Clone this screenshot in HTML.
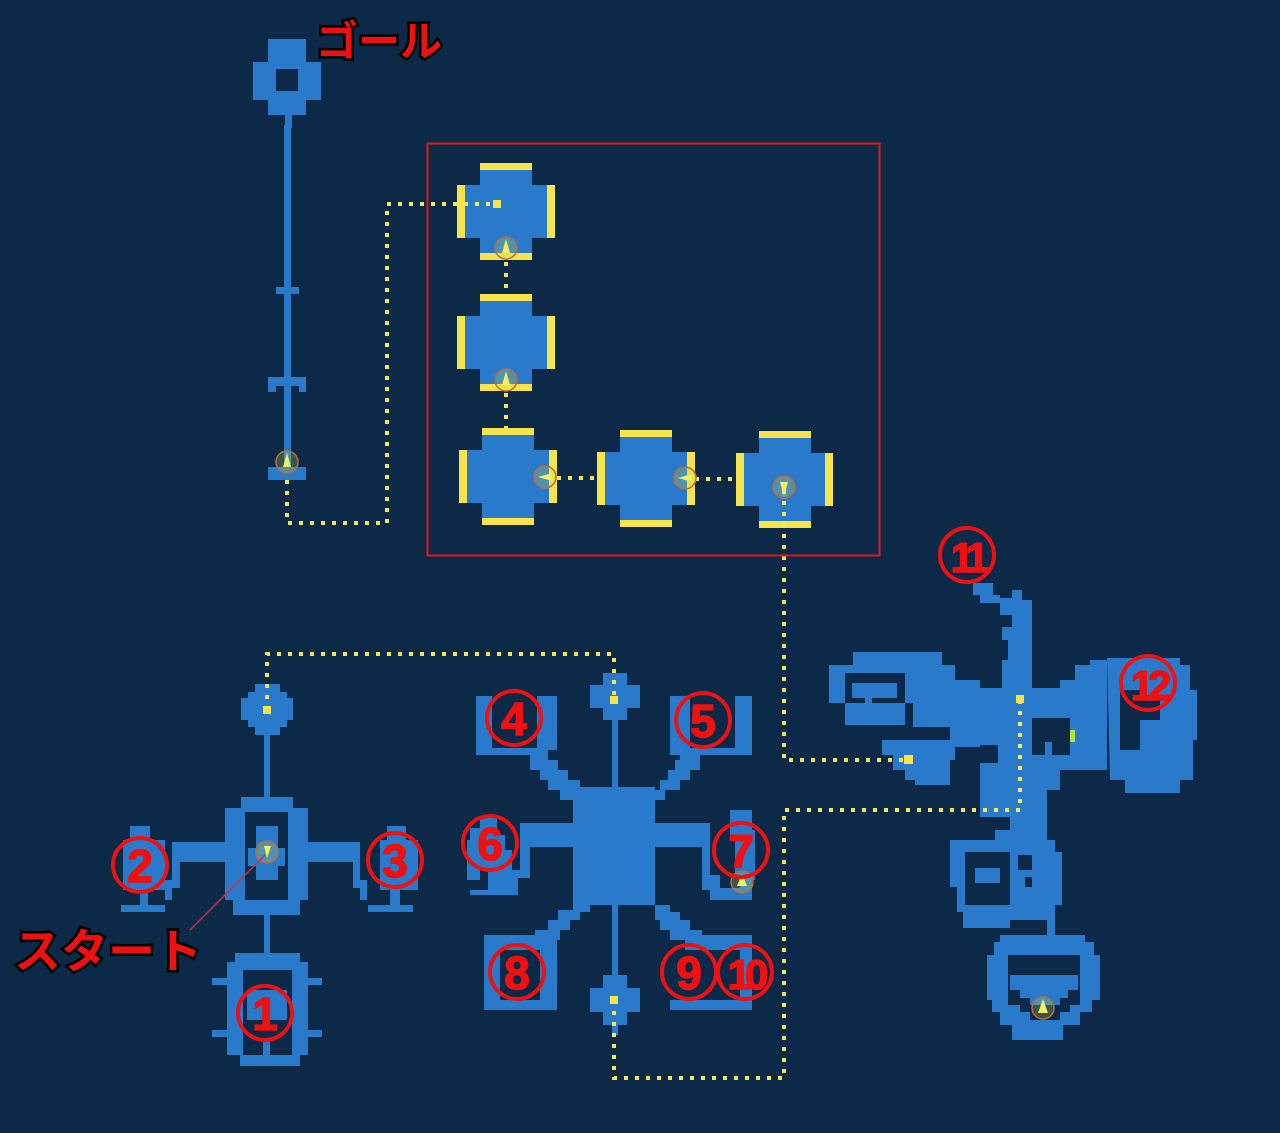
<!DOCTYPE html>
<html><head><meta charset="utf-8">
<style>
html,body{margin:0;padding:0;background:#0c2a47;}
svg{display:block}
.lbl{font-family:"Liberation Sans","Noto Sans CJK JP",sans-serif;font-weight:bold;fill:#ee1111;stroke:#000;stroke-width:5;paint-order:stroke;}
.num{font-family:"Liberation Sans",sans-serif;font-weight:bold;fill:#ee1111;stroke:#ee1111;stroke-width:1.5;font-size:46px;text-anchor:middle;}
</style></head><body>
<svg width="1280" height="1133" viewBox="0 0 1280 1133" xmlns="http://www.w3.org/2000/svg">
<rect width="1280" height="1133" fill="#0c2a47"/>
<g fill="#2a7acc" fill-rule="evenodd">
<path d="M268 39H306V62H321V100H306V115H292V128H285V115H268V100H253V62H268Z M276 69V91H298V69Z"/>
<rect x="284" y="125" width="7" height="345"/>
<rect x="276" y="287" width="23" height="7"/>
<path d="M268 377H306V392H299V386H276V392H268Z"/>
<rect x="268" y="467" width="38" height="13"/>

<path d="M255 684H280V692H287V698H293V720H287V727H280V735H255V727H248V720H241V698H248V692H255Z"/>
<rect x="264" y="735" width="6" height="62"/>
<path d="M241 797H293V808H308V900H300V915H233V900H225V808H241Z M245 812V900H288V812Z"/>
<path d="M256 826H278V848H285V866H278V880H256V866H248V848H256Z"/>
<path d="M172 842H225V862H180V888H172V900H165V880H172Z"/>
<path d="M308 842H360V880H367V900H360V888H353V862H308Z"/>
<path d="M130 826H150V840H165V890H148V905H165V912H121V905H140V890H123V840H130Z"/>
<path d="M387 826H406V840H418V890H400V905H413V912H368V905H390V890H380V840H387Z"/>
<rect x="264" y="915" width="6" height="40"/>
<path d="M235 953H300V962H308V978H322V985H308V1030H322V1037H308V1055H300V1066H240V1055H227V1037H212V1030H227V985H212V978H227V962H235Z M243 970V1055H263V1040H270V1055H292V970Z"/>
<rect x="247" y="990" width="40" height="30"/>

<rect x="573" y="787" width="82" height="118"/>
<path d="M603 673H627V685H640V708H627V720H618V787H612V720H603V708H590V685H603Z"/>
<path d="M612 905H618V975H627V988H640V1012H627V1025H618V1035H612V1025H603V1012H590V988H603V975H612Z"/>
<path d="M476 696H492V748H537V696H557V750H548V760H558V770H568V780H580V790H573V800H560V790H548V780H540V770H530V755H476Z"/>
<path d="M670 696H690V748H735V696H752V755H700V770H690V780H680V790H665V800H655V790H660V780H668V770H675V760H680V755H670Z"/>
<path d="M520 823H573V847H530V878H518V895H470V890H488V870H480V880H467V840H470V828H480V818H497V835H505V850H512V870H520Z"/>
<path d="M655 823H710V875H720V888H740V875H735V840H730V810H752V830H755V880H752V900H710V890H702V847H655Z"/>
<path d="M573 905H590V912H580V920H570V930H560V940H557V1010H484V935H535V930H548V920H558V910H573Z M500 950V1000H540V950Z"/>
<path d="M655 905H670V912H680V920H690V930H702V935H752V1010H670V1000H740V950H685V940H670V930H660V920H655Z"/>

<path d="M973 583H993V595H1000V598H1012V590H1022V600H1032V690H1002V660H1008V640H1002V627H1012V615H1000V603H980V595H973Z"/>
<path d="M980 688H1060V680H1075V665H1090V660H1107V770H1060V790H1020V785H1000V780H985V765H998V745H980Z M1032 718V755H1045V742H1052V755H1070V718Z"/>
<path d="M853 652H942V665H955V680H980V747H955V760H950V785H915V780H905V770H893V755H882V740H950V727H913V703H829V665H853Z M845 673V725H905V673Z"/>
<rect x="852" y="683" width="45" height="15"/>
<rect x="865" y="698" width="7" height="20"/>
<path d="M1107 658H1180V665H1190V690H1197V740H1193V780H1180V793H1125V780H1110Z M1120 690V750H1140V720H1160V700H1140V690Z"/>
<path d="M980 763H1047V840H1010V817H980Z"/>
<path d="M995 830H1040V840H1055V852H1062V905H1047V920H1010V928H963V912H957V887H950V840H995Z M965 852V905H1010V852Z M1018 855V870H1032V855Z M1025 877V887H1032V877Z"/>
<rect x="975" y="868" width="25" height="15"/>
<rect x="1047" y="905" width="8" height="30"/>
<path d="M1000 935H1085V942H1094V955H1100V1000H1092V1012H1080V1025H1063V1040H1012V1025H1000V1012H992V1000H987V955H994V942H1000Z M1008 955V1005H1020V1012H1030V1020H1060V1012H1070V1005H1080V955Z"/>
<path d="M1010 975H1078V990H1068V998H1060V1005H1030V998H1020V990H1010Z"/>
</g>

<g>
<g fill="#2a7acc">
<path d="M480 163H532V185H555V238H532V260H480V238H457V185H480Z"/>
<path d="M480 294H532V316H555V369H532V391H480V369H457V316H480Z"/>
<path d="M482 428H534V450H557V503H534V525H482V503H459V450H482Z"/>
<path d="M620 430H672V452H695V505H672V527H620V505H597V452H620Z"/>
<path d="M759 431H811V453H833V506H811V528H759V506H736V453H759Z"/>
</g>
<g fill="#f7e34a">
<rect x="480" y="163" width="52" height="7"/><rect x="480" y="253" width="52" height="7"/><rect x="457" y="185" width="8" height="53"/><rect x="547" y="185" width="8" height="53"/>
<rect x="480" y="294" width="52" height="7"/><rect x="480" y="384" width="52" height="7"/><rect x="457" y="316" width="8" height="53"/><rect x="547" y="316" width="8" height="53"/>
<rect x="482" y="428" width="52" height="7"/><rect x="482" y="518" width="52" height="7"/><rect x="459" y="450" width="8" height="53"/><rect x="549" y="450" width="8" height="53"/>
<rect x="620" y="430" width="52" height="7"/><rect x="620" y="520" width="52" height="7"/><rect x="597" y="452" width="8" height="53"/><rect x="687" y="452" width="8" height="53"/>
<rect x="759" y="431" width="52" height="7"/><rect x="759" y="521" width="52" height="7"/><rect x="736" y="453" width="8" height="53"/><rect x="825" y="453" width="8" height="53"/>
</g>
</g>

<g fill="none" stroke="#f2e85a" stroke-width="4" stroke-dasharray="4 7">
<path d="M287 480V523H387V204H497"/>
<path d="M506 262V294M506 393V428"/>
<path d="M557 478H597M695 479H736"/>
<path d="M784 490V760H908"/>
<path d="M267 710V654H614V700"/>
<path d="M614 1000V1078H784V810H1020V698"/>
</g>
<g fill="#f7e34a">
<rect x="493" y="200" width="8" height="8"/><rect x="263" y="706" width="8" height="8"/><rect x="610" y="696" width="8" height="8"/><rect x="610" y="996" width="8" height="8"/><rect x="904" y="755" width="9" height="9"/><rect x="1016" y="695" width="8" height="8"/>
<rect x="1070" y="730" width="5" height="12" fill="#b8e040"/>
</g>

<g>
<g stroke="#c06a3a" stroke-width="1.5" fill="rgba(200,220,80,0.25)">
<circle cx="287" cy="462" r="11"/><circle cx="506" cy="248" r="11"/><circle cx="506" cy="380" r="11"/>
<circle cx="545" cy="477" r="11"/><circle cx="685" cy="478" r="11"/><circle cx="784" cy="487" r="11"/>
<circle cx="267" cy="852" r="11"/><circle cx="742" cy="882" r="11"/><circle cx="1043" cy="1008" r="11"/>
</g>
<g fill="#f5f060">
<path d="M287 453l4 14h-8z"/><path d="M506 239l4 14h-8z"/><path d="M506 371l4 14h-8z"/>
<path d="M538 477l14 -4v8z"/><path d="M678 478l14 -4v8z"/><path d="M784 496l4 -14h-8z"/>
<path d="M264 846h7l-4 12z"/><path d="M742 874l5 12h-10z"/><path d="M1043 999l5 14h-10z"/>
</g>
</g>

<rect x="427.5" y="143.5" width="452" height="412" fill="none" stroke="#e01818" stroke-width="2"/>
<line x1="190" y1="930" x2="265" y2="855" stroke="#c8304a" stroke-width="1.5"/>

<text class="lbl" x="316" y="56" font-size="42">ゴール</text>
<text class="lbl" x="14" y="968" font-size="47">スタート</text>

<g fill="none" stroke="#ee1111" stroke-width="4">
<circle cx="265" cy="1013" r="27"/><circle cx="140" cy="865" r="27"/><circle cx="395" cy="860" r="27"/>
<circle cx="514" cy="718" r="27"/><circle cx="703" cy="720" r="27"/><circle cx="490" cy="843" r="27"/>
<circle cx="741" cy="850" r="27"/><circle cx="517" cy="972" r="27"/><circle cx="689" cy="972" r="27"/>
<circle cx="745" cy="972" r="27"/><circle cx="967" cy="555" r="27"/><circle cx="1148" cy="683" r="27"/>
</g>
<g class="num">
<text x="265" y="1030">1</text><text x="140" y="882">2</text><text x="395" y="877">3</text>
<text x="514" y="735">4</text><text x="703" y="737">5</text><text x="490" y="860">6</text>
<text x="741" y="867">7</text><text x="517" y="989">8</text><text x="689" y="989">9</text>
<text x="745" y="989" font-size="42" letter-spacing="-6">10</text>
<text x="967" y="572" font-size="42" letter-spacing="-6">11</text>
<text x="1148" y="700" font-size="42" letter-spacing="-6">12</text>
</g>
</svg>
</body></html>
